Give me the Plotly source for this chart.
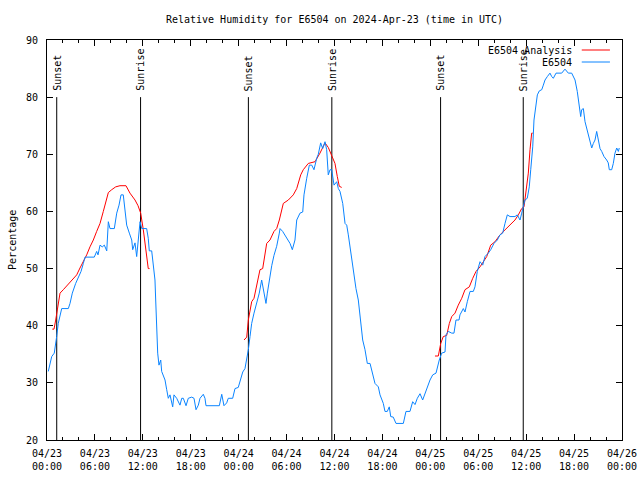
import pandas as pd
import plotly.graph_objects as go

TITLE = "Relative Humidity for E6504 on 2024-Apr-23 (time in UTC)"
START = "2024-04-23 00:00"
END = "2024-04-26 00:00"

# Observations E6504: hours since 2024-04-23 00:00 UTC, relative humidity (%)
obs_hours = [0.16, 0.38, 0.59, 0.91, 1.06, 1.21, 1.41, 1.63, 1.84, 2.25, 2.67, 2.88, 3.17, 3.59, 3.92,
             4.26, 4.55, 4.76, 5.38, 5.92, 6.22, 6.39, 6.64, 6.92, 7.18, 7.48, 7.68, 7.89, 8.43, 8.73,
             9.02, 9.27, 9.55, 9.77, 9.98, 10.31, 10.61, 10.73, 11.02, 11.23, 11.43, 11.65, 11.86, 12.48,
             12.68, 12.81, 13.11, 13.31, 13.52, 13.61, 13.74, 13.86, 14.02, 14.24, 14.36, 14.56, 14.78,
             14.99, 15.19, 15.40, 15.61, 15.74, 15.90, 16.24, 16.65, 16.87, 17.07, 17.41, 17.69, 18.12,
             18.41, 18.66, 18.95, 19.16, 19.57, 19.78, 19.91, 21.58, 21.88, 22.16, 22.50, 22.70, 23.25,
             23.54, 23.95, 24.26, 24.51, 24.79, 25.01, 25.21, 25.42, 25.63, 25.92, 26.26, 26.58, 26.88,
             27.08, 27.42, 27.59, 27.84, 28.14, 28.42, 28.76, 29.09, 29.18, 29.51, 30.02, 30.43, 30.72,
             31.05, 31.27, 31.68, 32.02, 32.18, 32.52, 32.85, 33.15, 33.43, 33.77, 33.97, 34.27, 34.52,
             34.81, 35.02, 35.22, 35.44, 35.65, 35.94, 36.28, 36.48, 36.69, 37.03, 37.32, 37.53, 37.73,
             38.03, 38.35, 38.69, 38.98, 39.19, 39.53, 39.82, 40.11, 40.45, 40.78, 41.07, 41.49, 41.70,
             42.11, 42.32, 42.61, 42.86, 43.04, 43.36, 43.70, 44.62, 44.95, 45.45, 45.79, 46.08, 46.37,
             46.71, 47.04, 47.33, 47.62, 47.96, 48.30, 48.71, 49.12, 49.42, 49.84, 49.96, 50.25, 50.68,
             50.96, 51.21, 51.59, 51.71, 52.13, 52.34, 52.63, 52.97, 53.38, 53.59, 53.88, 54.22, 54.56,
             54.84, 55.26, 55.56, 55.97, 56.39, 56.72, 57.06, 57.35, 57.64, 57.98, 58.60, 58.89, 59.23,
             59.44, 59.64, 59.85, 60.14, 60.39, 60.57, 60.82, 60.98, 61.23, 61.40, 61.65, 61.95, 62.15,
             62.36, 62.65, 62.98, 63.20, 63.40, 63.74, 64.03, 64.45, 64.86, 65.28, 65.70, 66.12, 66.40,
             66.65, 66.83, 66.95, 67.16, 67.37, 67.58, 67.78, 67.99, 68.21, 68.41, 68.62, 68.83, 69.03,
             69.25, 69.46, 69.75, 70.08, 70.28, 70.41, 70.71, 70.91, 71.12, 71.34, 71.54, 71.66]
obs_values = [32.0, 33.3, 34.6, 35.2, 36.5, 38.1, 40.4, 41.9, 43.0, 43.0, 43.0, 43.9, 45.7, 47.4, 48.3,
              49.5, 50.9, 52.0, 52.0, 52.0, 53.0, 52.4, 54.1, 53.8, 54.1, 53.1, 58.2, 57.0, 57.0, 59.7,
              61.1, 62.9, 62.9, 60.4, 57.6, 56.2, 55.0, 53.3, 54.5, 52.1, 55.6, 58.2, 57.0, 57.0,
              55.3, 53.1, 53.1, 50.9, 48.0, 44.5, 39.8, 35.2, 33.1, 34.0, 32.0, 31.1, 30.5,
              28.8, 27.3, 27.9, 26.7, 25.8, 27.9, 27.3, 26.1, 27.3, 27.3, 26.0, 27.3, 27.5,
              27.3, 25.3, 26.1, 27.3, 28.0, 27.3, 26.0, 26.0, 28.0, 26.0, 26.5, 27.3, 27.3,
              29.0, 29.2, 30.5, 31.9, 32.5, 34.0, 35.8, 38.1, 40.4, 42.2, 43.9, 45.7, 48.0,
              46.5, 43.9, 45.7, 48.0, 50.5, 52.3, 53.9, 56.2, 57.0, 56.5, 55.3, 54.4, 53.3,
              55.0, 58.5, 59.7, 59.9, 62.9, 65.8, 68.1, 68.1, 67.3, 69.3, 70.0, 72.0, 71.0,
              72.2, 70.8, 66.4, 67.3, 67.3, 64.6, 65.2, 64.0, 63.5, 61.4, 57.9, 57.6, 55.9,
              52.7, 49.5, 46.5, 44.5, 41.5, 37.5, 35.8, 33.4, 33.4, 31.7, 29.9, 29.3, 27.9,
              26.4, 25.0, 25.0, 25.8, 24.1, 24.0, 22.9, 22.9, 25.0, 25.0, 26.7, 26.2, 27.3,
              28.1, 27.0, 28.2, 29.3, 30.5, 31.4, 31.7, 34.0, 35.2, 35.4, 38.4, 39.0, 38.7,
              38.7, 41.0, 41.0, 41.9, 43.0, 42.4, 44.2, 46.0, 46.0, 46.8, 49.5, 51.2, 50.6,
              52.1, 52.7, 53.3, 54.4, 55.0, 55.9, 56.2, 57.9, 59.4, 59.1, 59.1, 59.4, 58.5,
              59.7, 60.8, 62.0, 62.3, 64.3, 67.3, 71.3, 76.0, 78.3, 80.4, 81.1, 81.3, 82.1,
              83.0, 83.6, 84.2, 83.6, 83.3, 84.2, 84.2, 84.2, 84.9, 84.2, 84.2, 83.0, 81.0,
              78.6, 76.6, 77.8, 78.0, 75.7, 74.5, 73.7, 72.5, 71.1, 71.9, 72.5, 74.0, 72.5,
              71.0, 70.5, 69.6, 69.0, 68.5, 67.3, 67.3, 68.4, 70.2, 71.1, 70.5, 71.1]

# Analysis E6504 (three nightly runs): hours since start, relative humidity (%)
ana1_hours = [0.66, 0.88, 1.09, 1.34, 1.50, 1.63, 2.04, 2.47, 2.88, 3.29, 3.72, 4.13, 4.55, 4.97, 5.38,
              5.80, 6.22, 6.64, 7.05, 7.35, 7.68, 8.10, 8.60, 9.14, 9.89, 10.39, 11.02, 11.40, 11.73,
              12.06, 12.40, 12.68, 12.84]
ana1_values = [39.4, 39.4, 41.0, 43.0, 44.8, 45.7, 46.3, 47.0, 47.7, 48.3, 48.9, 50.1, 51.2, 52.4, 53.8,
               55.0, 56.5, 57.9, 60.0, 61.7, 63.3, 63.8, 64.3, 64.5, 64.5, 63.2, 62.0, 61.0, 59.7,
               56.8, 53.3, 50.0, 50.0]
ana2_hours = [24.67, 25.01, 25.21, 25.63, 25.92, 26.26, 26.67, 27.01, 27.30, 27.51, 27.92, 28.42, 28.76,
              29.09, 29.59, 30.22, 30.84, 31.27, 31.77, 32.09, 32.72, 33.56, 34.18, 34.81, 35.22, 35.65,
              36.06, 36.35, 36.60, 36.90]
ana2_values = [37.5, 38.0, 41.0, 44.2, 44.8, 47.4, 49.8, 50.0, 52.7, 54.4, 55.0, 56.5, 57.0,
               58.5, 61.4, 62.0, 62.9, 64.0, 66.4, 67.3, 68.4, 68.7, 70.2, 72.0, 71.2, 69.9,
               68.4, 66.1, 64.4, 64.2]
ana3_hours = [48.58, 49.00, 49.30, 49.62, 50.05, 50.38, 50.68, 51.09, 51.50, 51.93, 52.34, 52.88, 53.31,
              53.72, 54.22, 54.63, 55.06, 55.56, 56.10, 56.72, 57.35, 57.98, 58.60, 59.02, 59.44, 59.73,
              60.07, 60.27, 60.48, 60.69, 60.82]
ana3_values = [34.7, 34.7, 36.9, 38.1, 38.3, 40.4, 41.6, 42.2, 43.6, 44.8, 46.3, 46.8, 48.3,
               49.5, 50.3, 51.2, 52.1, 54.1, 54.7, 55.9, 56.8, 57.6, 58.5, 59.4, 60.5, 60.8,
               64.3, 66.7, 70.8, 73.7, 73.7]

sun_times = ["2024-04-23 01:13", "2024-04-23 11:43", "2024-04-24 01:13",
             "2024-04-24 11:40", "2024-04-25 01:17", "2024-04-25 11:38"]
sun_labels = ["Sunset", "Sunrise", "Sunset", "Sunrise", "Sunset", "Sunrise"]
SUN_LINE_BOTTOM = 20
SUN_LINE_TOP = 80

OBS_NAME = "E6504"
ANA_NAME = "E6504 Analysis"
RED = "#ff0000"
BLUE = "#0a84ff"
FONT = "DejaVu Sans Mono"

base = pd.Timestamp(START)


def to_time(hours):
    return [base + pd.Timedelta(hours=h) for h in hours]


fig = go.Figure()

# sunrise / sunset vertical lines
sx, sy = [], []
for t in sun_times:
    sx += [pd.Timestamp(t), pd.Timestamp(t), None]
    sy += [SUN_LINE_BOTTOM, SUN_LINE_TOP, None]
fig.add_trace(go.Scatter(x=sx, y=sy, mode="lines", line=dict(color="black", width=1),
                         showlegend=False, hoverinfo="skip"))

for hrs, vals in [(ana1_hours, ana1_values), (ana2_hours, ana2_values), (ana3_hours, ana3_values)]:
    fig.add_trace(go.Scatter(x=to_time(hrs), y=vals, mode="lines", name=ANA_NAME,
                             line=dict(color=RED, width=1), showlegend=False))

fig.add_trace(go.Scatter(x=to_time(obs_hours), y=obs_values, mode="lines", name=OBS_NAME,
                         line=dict(color=BLUE, width=1), showlegend=False))

annotations = []
for t, lab in zip(sun_times, sun_labels):
    annotations.append(dict(x=pd.Timestamp(t), y=SUN_LINE_TOP, xref="x", yref="y", text=lab,
                            textangle=-90, showarrow=False, xanchor="center", yanchor="bottom",
                            yshift=4, font=dict(family=FONT, size=10, color="black")))

# y-axis label
annotations.append(dict(x=-0.061, y=0.5, xref="paper", yref="paper", text="Percentage",
                        textangle=-90, showarrow=False, xanchor="center", yanchor="middle",
                        font=dict(family=FONT, size=10, color="black")))

# gnuplot-style key (text then sample line)
for i, (name, col) in enumerate([(ANA_NAME, RED), (OBS_NAME, BLUE)]):
    ky = 0.975 - i * 0.03
    annotations.append(dict(x=0.917, y=ky, xref="paper", yref="paper", text=name, showarrow=False,
                            xanchor="right", yanchor="middle",
                            font=dict(family=FONT, size=10, color="black")))
shapes = []
for i, col in enumerate([RED, BLUE]):
    ky = 0.975 - i * 0.03
    shapes.append(dict(type="line", xref="paper", yref="paper", x0=0.930, x1=0.979, y0=ky, y1=ky,
                       line=dict(color=col, width=1)))

fig.update_layout(
    width=640, height=480,
    margin=dict(l=47, r=18, t=40, b=40, autoexpand=False),
    paper_bgcolor="white", plot_bgcolor="white",
    title=dict(text=TITLE, x=0.5227, xref="container", y=0.96, yref="container",
               xanchor="center", yanchor="middle",
               font=dict(family=FONT, size=10, color="black")),
    font=dict(family=FONT, size=10, color="black"),
    annotations=annotations, shapes=shapes,
    showlegend=False,
)
fig.update_xaxes(
    type="date", range=[START, END], dtick=6 * 3600 * 1000, tick0=START, automargin=False,
    tickformat="%m/%d<br>%H:%M", ticks="inside", ticklen=6, tickcolor="black",
    ticklabelstandoff=4,
    showline=True, linecolor="black", linewidth=1, mirror="ticks", showgrid=False, zeroline=False,
    tickfont=dict(family=FONT, size=10, color="black"),
    minor=dict(dtick=2 * 3600 * 1000, ticks="inside", ticklen=3, tickcolor="black", showgrid=False),
)
fig.update_yaxes(
    range=[20, 90], dtick=10, ticks="inside", ticklen=6, tickcolor="black", automargin=False,
    ticklabelstandoff=6,
    showline=True, linecolor="black", linewidth=1, mirror="ticks", showgrid=False, zeroline=False,
    tickfont=dict(family=FONT, size=10, color="black"),
)

fig.write_html("out.html", config={"displayModeBar": False},
               post_script="document.body.style.margin='0';")
